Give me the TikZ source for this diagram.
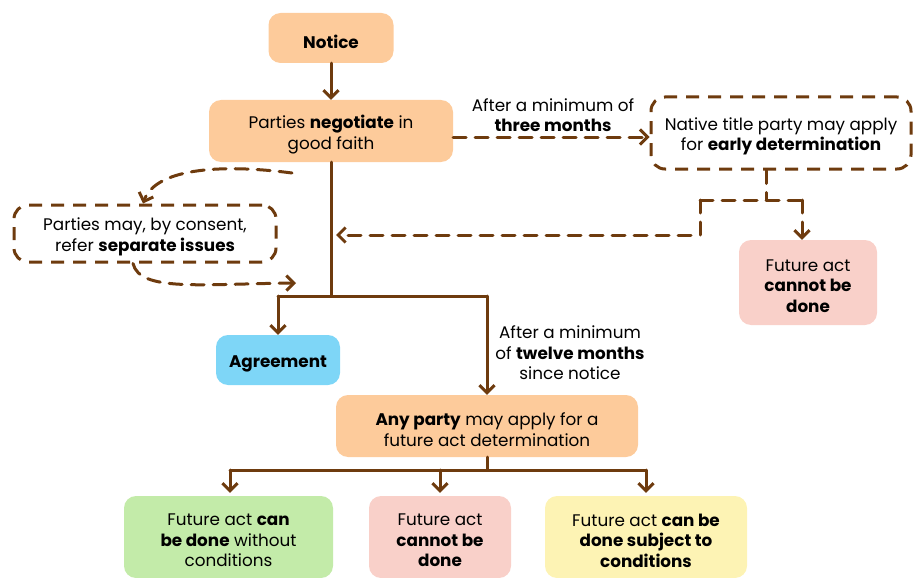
\documentclass[tikz,border=0pt]{standalone}
\usepackage{fontspec}
\setmainfont{Poppins}
\usetikzlibrary{arrows.meta}
\definecolor{brn}{HTML}{6E3B0E}
\definecolor{peach}{HTML}{FDCB9B}
\definecolor{skyb}{HTML}{7ED6F7}
\definecolor{lgreen}{HTML}{C3EBA9}
\definecolor{lpink}{HTML}{F9D0C9}
\definecolor{lyellow}{HTML}{FDF3B4}
\tikzset{
  box/.style={rounded corners=12pt, inner sep=0pt},
  dbox/.style={box, draw=brn, line width=3pt, dash pattern=on 13pt off 9pt, rounded corners=14pt},
  conn/.style={draw=brn, line width=3pt, line cap=round, line join=round},
  arr/.style={conn, -{Straight Barb[length=7.5pt,width=15pt,line width=3pt]}},
  dconn/.style={conn, dash pattern=on 13pt off 9pt},
  darr/.style={dconn, -{Straight Barb[length=7.5pt,width=15pt,line width=3pt]}},
  lbl/.style={align=center, inner sep=0pt, text=black},
  txt/.style={lbl, yshift=-3.5pt}
}
\begin{document}
\begin{tikzpicture}[x=1pt,y=-1pt, font=\fontsize{16.8}{20.5}\selectfont]
\useasboundingbox (0,0) rectangle (914,578);
% boxes
\node[box, fill=peach, minimum width=125pt, minimum height=50pt] (notice) at (331,38) {};
\node[box, fill=peach, minimum width=244pt, minimum height=62pt] (neg) at (331,131) {};
\node[dbox, minimum width=260pt, minimum height=72pt] (nt) at (781,133) {};
\node[dbox, minimum width=262pt, minimum height=57pt] (sep) at (145,233.5) {};
\node[box, fill=lpink, minimum width=138pt, minimum height=85pt] (cnr) at (808,282.5) {};
\node[box, fill=skyb, minimum width=124pt, minimum height=50pt] (agree) at (278,360) {};
\node[box, fill=peach, minimum width=302pt, minimum height=62pt] (any) at (487,426) {};
\node[box, fill=lgreen, minimum width=209pt, minimum height=82pt] (g) at (228.5,537) {};
\node[box, fill=lpink, minimum width=142pt, minimum height=82pt] (p) at (440,537) {};
\node[box, fill=lyellow, minimum width=202pt, minimum height=82pt] (y) at (646,537) {};
% box texts
\node[txt] (notice-t) at (notice.center) {\textbf{Notice}};
\node[txt] (neg-t) at (neg.center) {Parties \textbf{negotiate} in\\good faith};
\node[txt] (nt-t) at (nt.center) {Native title party may apply\\for \textbf{early determination}};
\node[txt] (sep-t) at (sep.center) {Parties may, by consent,\\refer \textbf{separate issues}};
\node[txt] (cnr-t) at (cnr.center) {Future act\\\textbf{cannot be}\\\textbf{done}};
\node[txt] (agree-t) at (agree.center) {\textbf{Agreement}};
\node[txt] (any-t) at (any.center) {\textbf{Any party} may apply for a\\future act determination};
\node[txt] (g-t) at (g.center) {Future act \textbf{can}\\\textbf{be done} without\\conditions};
\node[txt] (p-t) at (p.center) {Future act\\\textbf{cannot be}\\\textbf{done}};
\node[txt] (y-t) at (y.center) {Future act \textbf{can be}\\\textbf{done subject to}\\\textbf{conditions}};
% labels
\node[lbl] (l3) at (553,115) {After a minimum of\\\textbf{three months}};
\node[lbl] (l12) at (570,353) {After a minimum\\of \textbf{twelve months}\\since notice};
% connectors
\draw[arr] (notice) -- (neg);
\coordinate (jm) at (331,296);
\coordinate (jl) at (278,296);
\coordinate (jr) at (487,296);
\draw[conn] (neg.south) -- (jm);
\draw[conn] (jl) -- (jr);
\draw[arr] (jl) -- (agree.north);
\draw[arr] (jr) -- (any.north);
% dashed three months
\draw[darr] ([yshift=-6pt]neg.east) -- ([yshift=-4pt]nt.west);
% early determination split
\coordinate (s0) at (766,200);
\coordinate (sl) at (700,200);
\coordinate (sr) at (802,200);
\coordinate (sl2) at (700,235);
\coordinate (tgt) at (336,235);
\draw[dconn] ([xshift=-15pt]nt.south) -- (s0);
\draw[dconn] (sl) -- (sr);
\draw[darr] (sl) -- (sl2) -- (tgt);
\draw[darr] (sr) -- ([xshift=-6pt]cnr.north);
% separate issues curves
\coordinate (c1) at (292,173);
\coordinate (c2) at (296,283);
\draw[darr] (c1) .. controls (215,163) and (155,170) .. ([xshift=-2pt]sep.north);
\draw[darr] ([xshift=-12pt]sep.south) .. controls (140,292) and (200,284) .. (c2);
% bottom split
\coordinate (b0) at (487,470);
\coordinate (bl) at (230,470);
\coordinate (br) at (646,470);
\draw[conn] (any.south) -- (b0);
\draw[conn] (bl) -- (br);
\draw[arr] (bl) -- ([yshift=3pt]bl |- g.north);
\draw[arr] (440,470) -- ([yshift=3pt]p.north);
\draw[arr] (br) -- ([yshift=3pt]y.north);
\end{tikzpicture}
\end{document}
